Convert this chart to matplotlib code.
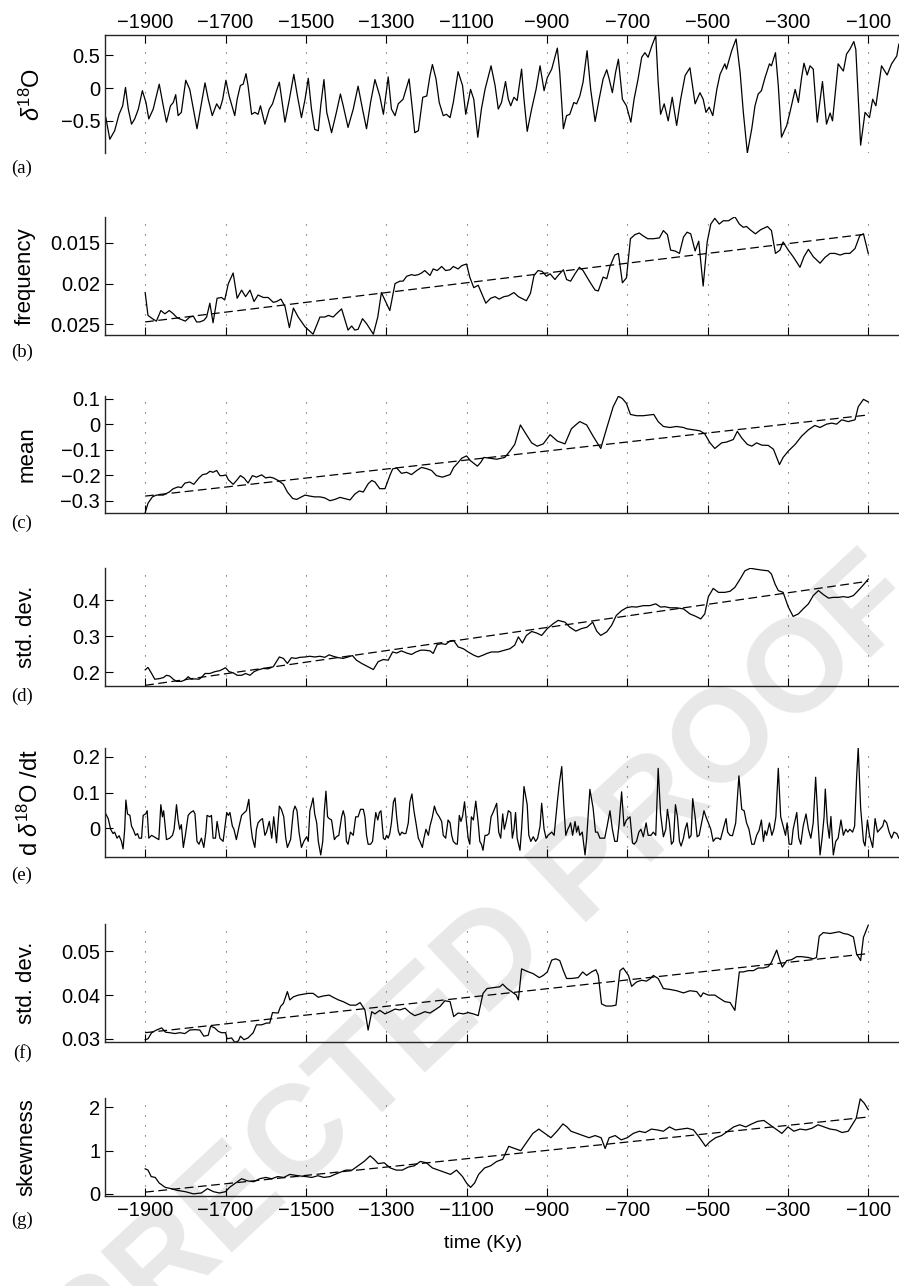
import matplotlib.pyplot as plt

plt.rcParams['font.family'] = 'Liberation Sans'
plt.rcParams['mathtext.fontset'] = 'custom'
plt.rcParams['mathtext.rm'] = 'Liberation Sans'
plt.rcParams['mathtext.it'] = 'Liberation Sans:italic'

# ---------------- data ----------------
xticks = [-1900, -1700, -1500, -1300, -1100, -900, -700, -500, -300, -100]
trend_t = [-1900, -100]

# (a) d18O record
a_t = [-1998, -1988, -1976, -1965, -1956, -1949, -1942, -1934, -1926, -1917,
       -1907, -1898, -1891, -1880, -1865, -1855, -1847, -1837, -1830, -1824,
       -1818, -1810, -1799, -1789, -1780, -1771, -1761, -1751, -1743, -1733,
       -1722, -1714, -1707, -1699, -1691, -1677, -1671, -1663, -1656, -1649,
       -1644, -1635, -1627, -1619, -1613, -1602, -1591, -1583, -1573, -1566,
       -1560, -1552, -1541, -1530, -1521, -1511, -1502, -1494, -1486, -1478,
       -1469, -1463, -1455, -1448, -1436, -1424, -1414, -1407, -1395, -1382,
       -1370, -1359, -1349, -1339, -1328, -1316, -1307, -1295, -1287, -1278,
       -1270, -1258, -1243, -1234, -1229, -1220, -1209, -1199, -1191, -1185,
       -1176, -1168, -1158, -1150, -1141,
       -1133, -1121, -1110, -1102, -1090, -1082, -1072, -1063, -1054, -1039,
       -1029, -1021, -1013, -1003, -996, -990, -982, -974, -963, -957,
       -949, -938, -927, -917, -907, -899, -888, -874, -868, -859,
       -851, -843, -833, -826, -818, -810, -800, -791, -780, -770,
       -760, -751, -745, -737, -729, -722, -712, -702, -691, -683,
       -673, -664, -656, -648, -639, -629, -623, -617, -608, -598,
       -588, -577, -567, -556, -544, -531, -519, -511, -504, -496,
       -487, -477, -469, -457, -453, -440, -429, -419, -411, -401,
       -390, -382, -374, -366, -357, -346, -341, -331, -324, -316,
       -303, -295, -282, -274, -266, -260, -252, -245, -237, -227,
       -214, -204, -195, -189, -175, -162, -154, -146, -136, -131,
       -119, -108, -97, -89, -81, -67, -53, -42, -29, -24]
a_v = [-0.45, -0.78, -0.65, -0.40, -0.27, 0.01, -0.32, -0.55, -0.47, -0.32,
       -0.04, -0.22, -0.47, -0.32, 0.06, -0.27, -0.52, -0.27, -0.22, -0.10,
       -0.42, -0.37, 0.12, -0.02, -0.32, -0.62, -0.27, 0.08, -0.17, -0.42,
       -0.24, -0.32, -0.17, 0.12, -0.12, -0.42, -0.17, 0.04, 0.06, 0.22,
       0.04, -0.40, -0.37, -0.40, -0.27, -0.55, -0.32, -0.24, -0.04, 0.09,
       -0.17, -0.52, -0.17, 0.21, -0.12, -0.45, -0.17, 0.15, -0.32, -0.63,
       -0.65, -0.27, 0.13, -0.37, -0.68, -0.37, -0.09, -0.27, -0.60, -0.32,
       0.03, -0.32, -0.62, -0.22, 0.13, -0.12, -0.40, 0.17, -0.32, -0.42,
       -0.24, -0.17, 0.14, -0.37, -0.68, -0.65, -0.14, -0.12, 0.19, 0.36,
       0.14, -0.22, -0.42, -0.40, -0.45,
       -0.22, 0.25, 0.04, -0.40, -0.02, -0.17, -0.75, -0.32, -0.02, 0.34,
       0.04, -0.32, -0.22, 0.10, -0.17, -0.27, -0.14, -0.19, 0.29, -0.17,
       -0.66, -0.32, -0.02, 0.34, -0.04, 0.16, 0.29, 0.61, 0.24, -0.62,
       -0.42, -0.40, -0.22, -0.24, -0.12, 0.09, 0.57, -0.02, -0.51, -0.17,
       0.14, 0.28, 0.14, -0.07, 0.24, 0.44, -0.17, -0.27, -0.52, -0.17,
       0.14, 0.47, 0.54, 0.47, 0.64, 0.80, 0.09, -0.40, -0.24, -0.50,
       -0.14, -0.57, -0.17, 0.19, 0.31, -0.24, -0.07, -0.17, -0.37, -0.29,
       -0.42, -0.02, 0.21, 0.37, 0.29, 0.57, 0.75, 0.24, -0.37, -0.99,
       -0.62, -0.27, -0.09, -0.04, 0.16, 0.37, 0.34, 0.54, 0.04, -0.75,
       -0.57, -0.37, -0.02, -0.22, 0.16, 0.38, 0.20, 0.34, 0.29, -0.52,
       0.10, -0.55, -0.38, -0.50, 0.37, 0.26, 0.52, 0.59, 0.71, 0.59,
       -0.87, -0.37, -0.45, -0.17, -0.27, 0.34, 0.20, 0.37, 0.49, 0.67]

# (b) frequency
b_t = [-1900, -1893, -1882, -1872, -1861, -1851, -1840, -1830, -1820, -1810,
       -1800, -1789, -1780, -1772, -1764, -1754, -1747, -1739, -1731, -1721,
       -1710, -1702, -1693, -1681, -1671, -1660, -1650, -1639, -1629, -1619,
       -1606, -1594, -1581, -1573, -1562, -1552, -1541, -1531, -1519, -1502,
       -1482, -1465, -1453, -1444, -1432, -1424, -1411, -1395, -1386, -1378,
       -1370, -1359, -1349, -1332, -1321, -1312, -1291, -1278, -1266, -1258,
       -1249, -1237, -1229, -1220, -1212, -1204, -1191, -1183, -1173, -1162,
       -1152, -1141,
       -1133, -1121, -1112, -1100, -1092, -1082, -1071, -1052, -1040, -1029,
       -1019, -1007, -996, -982, -971, -951, -941, -932, -922, -912,
       -901, -892, -880, -872, -859, -851, -841, -830, -819, -810,
       -793, -780, -772, -760, -751, -743, -731, -722, -712, -702,
       -692, -681, -670, -662, -649, -635, -620, -610, -600, -592,
       -581, -570, -560, -551, -542, -531, -522, -511, -501, -492,
       -482, -471, -461, -448, -432, -421, -411, -403, -394, -381,
       -368, -351, -341, -331, -320, -312, -299, -287, -270, -260,
       -249, -237, -220, -208, -195, -183, -170, -158, -146, -133,
       -121, -112, -100]
b_v = [0.0211, 0.0239, 0.0243, 0.0246, 0.0233, 0.0237, 0.0233, 0.0237, 0.0242, 0.0244,
       0.0246, 0.0241, 0.0240, 0.0247, 0.0247, 0.0245, 0.0241, 0.0224, 0.0248, 0.0218,
       0.0217, 0.0220, 0.0200, 0.0187, 0.0218, 0.0208, 0.0216, 0.0208, 0.0222, 0.0214,
       0.0217, 0.0217, 0.0223, 0.0222, 0.0219, 0.0228, 0.0254, 0.0230, 0.0241, 0.0253,
       0.0262, 0.0241, 0.0241, 0.0239, 0.0241, 0.0237, 0.0231, 0.0257, 0.0252, 0.0257,
       0.0256, 0.0243, 0.0249, 0.0262, 0.0241, 0.0211, 0.0233, 0.0200, 0.0197, 0.0197,
       0.0191, 0.0189, 0.0190, 0.0189, 0.0187, 0.0184, 0.0190, 0.0182, 0.0184, 0.0179,
       0.0184, 0.0183,
       0.0179, 0.0182, 0.0178, 0.0176, 0.0192, 0.0205, 0.0202, 0.0224, 0.0218, 0.0216,
       0.0219, 0.0216, 0.0215, 0.0211, 0.0216, 0.0221, 0.0212, 0.0190, 0.0184, 0.0185,
       0.0191, 0.0188, 0.0195, 0.0190, 0.0183, 0.0195, 0.0197, 0.0188, 0.0180, 0.0184,
       0.0198, 0.0208, 0.0209, 0.0192, 0.0194, 0.0179, 0.0165, 0.0163, 0.0199, 0.0193,
       0.0145, 0.0140, 0.0138, 0.0141, 0.0145, 0.0145, 0.0144, 0.0135, 0.0140, 0.0159,
       0.0160, 0.0163, 0.0143, 0.0137, 0.0139, 0.0160, 0.0148, 0.0203, 0.0149, 0.0127,
       0.0120, 0.0127, 0.0123, 0.0123, 0.0118, 0.0127, 0.0131, 0.0130, 0.0134, 0.0139,
       0.0134, 0.0130, 0.0135, 0.0163, 0.0159, 0.0149, 0.0159, 0.0167, 0.0180, 0.0167,
       0.0158, 0.0167, 0.0175, 0.0168, 0.0163, 0.0163, 0.0165, 0.0163, 0.0163, 0.0157,
       0.0141, 0.0139, 0.0163]
b_trend = [0.0247, 0.0139]

# (c) mean
c_t = [-1900, -1893, -1882, -1872, -1855, -1840, -1830, -1818, -1810, -1801,
       -1789, -1779, -1766, -1757, -1747, -1739, -1731, -1722, -1714, -1706,
       -1699, -1693, -1681, -1671, -1663, -1654, -1644, -1633, -1623, -1610,
       -1600, -1590, -1581, -1569, -1556, -1546, -1533, -1523, -1513, -1502,
       -1490, -1478, -1465, -1453, -1440, -1428, -1415, -1403, -1390, -1378,
       -1367, -1357, -1345, -1336, -1328, -1316, -1303, -1291, -1284, -1274,
       -1262, -1249, -1237, -1224, -1212, -1199, -1187, -1175, -1160, -1141,
       -1132, -1121, -1112, -1100, -1090, -1073, -1065, -1057, -1042, -1025,
       -1005, -992, -980, -966, -955, -938, -924, -909, -892, -874,
       -855, -839, -826, -818, -801, -785, -766, -751, -735, -722,
       -712, -702, -692, -677, -660, -644, -634, -623, -610, -594,
       -577, -560, -552, -536, -519, -507, -494, -482, -465, -453,
       -436, -426, -415, -401, -390, -378, -365, -349, -336, -321,
       -312, -299, -282, -266, -249, -233, -220, -204, -191, -179,
       -166, -150, -133, -125, -112, -100]
c_v = [-0.346, -0.309, -0.284, -0.277, -0.277, -0.265, -0.252, -0.245, -0.248, -0.230,
       -0.226, -0.235, -0.210, -0.197, -0.194, -0.184, -0.188, -0.181, -0.201, -0.201,
       -0.198, -0.217, -0.235, -0.217, -0.201, -0.210, -0.230, -0.201, -0.207, -0.198,
       -0.210, -0.207, -0.210, -0.220, -0.235, -0.265, -0.290, -0.294, -0.286, -0.277,
       -0.281, -0.284, -0.284, -0.288, -0.299, -0.294, -0.286, -0.291, -0.296, -0.273,
       -0.261, -0.265, -0.233, -0.220, -0.226, -0.252, -0.252, -0.201, -0.175, -0.171,
       -0.192, -0.188, -0.197, -0.181, -0.169, -0.174, -0.181, -0.201, -0.207, -0.197,
       -0.169, -0.150, -0.133, -0.124, -0.143, -0.164, -0.150, -0.130, -0.133, -0.137,
       -0.130, -0.105, -0.079, -0.003, -0.031, -0.073, -0.086, -0.077, -0.041, -0.066,
       -0.077, -0.018, 0.000, 0.010, -0.003, -0.047, -0.095, -0.015, 0.068, 0.109,
       0.100, 0.081, 0.038, 0.033, 0.033, 0.036, 0.038, 0.010, -0.009, -0.013,
       -0.009, -0.013, -0.018, -0.022, -0.026, -0.038, -0.073, -0.095, -0.073, -0.070,
       -0.060, -0.028, -0.054, -0.079, -0.086, -0.073, -0.082, -0.083, -0.098, -0.158,
       -0.130, -0.105, -0.079, -0.047, -0.022, -0.005, -0.013, 0.000, 0.004, 0.000,
       0.017, 0.010, 0.017, 0.068, 0.097, 0.087]
c_trend = [-0.281, 0.036]

# (d) standard deviation
d_t = [-1900, -1893, -1884, -1876, -1863, -1854, -1847, -1839, -1830, -1822,
       -1810, -1801, -1793, -1785, -1776, -1766, -1760, -1751, -1739, -1727,
       -1714, -1700, -1691, -1681, -1671, -1660, -1650, -1639, -1629, -1619,
       -1606, -1594, -1581, -1566, -1556, -1546, -1536, -1525, -1515, -1502,
       -1490, -1478, -1465, -1453, -1442, -1432, -1419, -1407, -1395, -1384,
       -1374, -1361, -1349, -1332, -1320, -1307, -1295, -1284, -1274, -1262,
       -1249, -1237, -1226, -1214, -1204, -1191, -1183, -1173, -1162, -1152,
       -1141,
       -1132, -1121, -1108, -1096, -1082, -1071, -1059, -1049, -1038, -1021,
       -1005, -992, -980, -971, -961, -951, -938, -926, -913, -899,
       -884, -872, -855, -843, -828, -814, -800, -786, -776, -766,
       -751, -739, -727, -714, -702, -689, -677, -660, -644, -629,
       -617, -606, -594, -577, -560, -544, -529, -517, -507, -498,
       -486, -473, -457, -444, -432, -419, -407, -394, -382, -365,
       -349, -341, -332, -324, -312, -299, -287, -274, -262, -249,
       -237, -224, -212, -199, -187, -175, -162, -150, -137, -125,
       -112, -100]
d_v = [0.206, 0.213, 0.196, 0.180, 0.182, 0.185, 0.191, 0.189, 0.180, 0.174,
       0.174, 0.178, 0.187, 0.180, 0.181, 0.180, 0.185, 0.196, 0.196, 0.201,
       0.204, 0.212, 0.201, 0.198, 0.191, 0.191, 0.196, 0.191, 0.201, 0.206,
       0.210, 0.209, 0.215, 0.242, 0.238, 0.224, 0.240, 0.238, 0.241, 0.242,
       0.244, 0.242, 0.244, 0.241, 0.248, 0.244, 0.240, 0.238, 0.242, 0.246,
       0.233, 0.224, 0.217, 0.207, 0.229, 0.235, 0.233, 0.256, 0.253, 0.259,
       0.253, 0.249, 0.256, 0.261, 0.261, 0.259, 0.252, 0.277, 0.279, 0.277,
       0.287,
       0.288, 0.270, 0.265, 0.256, 0.247, 0.242, 0.247, 0.252, 0.256, 0.256,
       0.261, 0.265, 0.275, 0.298, 0.281, 0.302, 0.313, 0.309, 0.302, 0.321,
       0.335, 0.344, 0.339, 0.325, 0.314, 0.321, 0.325, 0.339, 0.314, 0.302,
       0.312, 0.330, 0.358, 0.371, 0.379, 0.382, 0.381, 0.385, 0.385, 0.390,
       0.381, 0.382, 0.379, 0.379, 0.376, 0.362, 0.355, 0.348, 0.362, 0.410,
       0.433, 0.422, 0.422, 0.425, 0.436, 0.459, 0.482, 0.489, 0.487, 0.484,
       0.482, 0.473, 0.445, 0.427, 0.422, 0.381, 0.355, 0.362, 0.376, 0.390,
       0.413, 0.427, 0.416, 0.406, 0.408, 0.408, 0.410, 0.408, 0.413, 0.427,
       0.443, 0.459]
d_trend = [0.163, 0.453]

# (e) derivative of d18O
e_t = [-1998, -1992, -1986, -1980, -1976, -1970, -1965, -1959, -1955, -1951,
       -1948, -1944, -1938, -1934, -1930, -1924, -1919, -1915, -1909, -1905,
       -1899, -1895, -1891, -1884, -1878, -1872, -1866, -1861, -1857, -1854,
       -1847, -1839, -1832, -1828, -1822, -1818, -1814, -1810, -1805, -1800,
       -1793, -1787, -1780, -1776, -1771, -1766, -1760, -1754, -1749, -1746,
       -1739, -1735, -1731, -1725, -1721, -1714, -1706, -1697, -1693, -1689,
       -1683, -1679, -1673, -1666, -1660, -1653, -1648, -1642, -1637, -1633,
       -1627, -1623, -1619, -1613, -1608, -1602, -1598, -1591, -1585, -1580,
       -1573, -1566, -1561, -1555, -1550, -1546, -1538, -1531, -1527, -1522,
       -1517, -1511, -1505, -1498, -1494, -1490, -1486, -1482, -1478, -1473,
       -1469, -1463, -1458, -1454, -1450, -1446, -1442, -1436, -1429, -1424,
       -1418, -1411, -1407, -1403, -1399, -1395, -1389, -1382, -1376, -1370,
       -1364, -1357, -1353, -1349, -1345, -1339, -1334, -1330, -1326, -1321,
       -1317, -1313, -1307, -1303, -1299, -1295, -1291, -1287, -1282, -1278,
       -1274, -1270, -1266, -1261, -1256, -1251, -1245, -1241, -1236, -1231,
       -1226, -1220, -1216, -1210, -1206, -1201, -1195, -1191, -1185, -1180,
       -1175, -1168, -1162, -1158, -1152, -1146, -1141,
       -1137, -1133, -1127, -1123, -1118, -1114, -1110, -1105, -1100, -1096,
       -1092, -1088, -1083, -1077, -1071, -1067, -1063, -1059, -1054, -1049,
       -1044, -1039, -1034, -1025, -1020, -1015, -1010, -1006, -1002, -996,
       -990, -986, -982, -978, -974, -967, -963, -957, -949, -945,
       -940, -934, -928, -923, -917, -913, -907, -902, -897, -888,
       -882, -874, -869, -863, -858, -853, -848, -844, -841, -836,
       -830, -826, -822, -818, -812, -805, -801, -793, -785, -779,
       -774, -768, -761, -756, -750, -743, -737, -731, -725, -720,
       -714, -708, -702, -693, -687, -683, -677, -671, -666, -660,
       -653, -648, -641, -635, -629, -623, -617, -610, -604, -600,
       -595, -590, -585, -580, -575, -570, -566, -560, -556, -551,
       -546, -541, -537, -531, -526, -521, -515, -509, -504, -498,
       -492, -486, -480, -473, -468, -461, -454, -450, -444, -438,
       -434, -430, -422, -415, -409, -403, -397, -390, -384, -378,
       -372, -366, -361, -357, -353, -346, -340, -335, -330, -324,
       -318, -312, -306, -302, -297, -291, -287, -278, -273, -268,
       -262, -255, -249, -243, -237, -231, -225, -220, -215, -210,
       -207, -202, -197, -193, -187, -181, -175, -168, -162, -156,
       -151, -146, -139, -134, -129, -125, -119, -112, -108, -102,
       -97, -93, -89, -83, -77, -71, -64, -60, -54, -48,
       -42, -36, -29, -24]
e_v = [0.040, 0.027, -0.003, -0.015, -0.011, -0.028, -0.021, -0.037, -0.058, -0.003,
       0.079, 0.040, 0.036, 0.006, -0.003, -0.020, -0.015, -0.028, -0.028, 0.036,
       0.040, 0.049, -0.028, -0.020, -0.024, -0.028, -0.032, 0.066, 0.032, 0.049,
       -0.032, -0.028, -0.020, -0.003, 0.066, 0.023, -0.003, 0.010, -0.054, -0.020,
       0.036, 0.044, 0.049, 0.040, -0.037, -0.045, -0.028, -0.054, -0.011, 0.036,
       0.032, 0.036, -0.028, -0.028, 0.019, -0.028, -0.037, 0.044, 0.036, 0.044,
       0.006, -0.003, -0.032, 0.006, 0.036, 0.044, 0.049, 0.081, 0.006, -0.028,
       -0.054, -0.003, 0.015, 0.023, 0.027, -0.020, -0.011, 0.019, -0.028, 0.032,
       -0.041, 0.062, 0.053, 0.032, -0.028, -0.054, -0.032, 0.049, 0.062, 0.049,
       -0.011, -0.054, -0.037, -0.024, -0.037, 0.049, 0.066, 0.085, 0.040, 0.015,
       -0.037, -0.075, -0.037, 0.049, 0.104, 0.032, 0.027, 0.023, -0.032, -0.024,
       -0.020, 0.032, 0.049, 0.032, -0.037, -0.045, -0.011, -0.020, 0.032, 0.032,
       0.053, 0.053, 0.032, -0.020, -0.045, -0.045, -0.037, 0.006, 0.044, 0.023,
       0.044, 0.049, -0.028, -0.032, -0.020, -0.028, -0.015, 0.015, 0.074, 0.085,
       0.032, -0.007, -0.020, -0.011, -0.015, -0.015, 0.015, 0.074, 0.096, 0.049,
       0.015, -0.028, -0.037, -0.054, -0.028, -0.003, -0.020, 0.006, 0.032, 0.062,
       0.044, 0.032, 0.019, -0.020, -0.028, 0.023, 0.015,
       -0.020, -0.037, -0.044, -0.045, 0.036, 0.019, 0.033, 0.074, 0.015, -0.028,
       -0.045, 0.032, 0.023, 0.076, 0.015, -0.037, -0.045, -0.062, -0.020, -0.020,
       -0.015, 0.032, 0.044, 0.070, -0.011, -0.028, 0.040, -0.003, 0.015, 0.049,
       0.044, -0.028, -0.003, 0.044, -0.028, -0.062, -0.003, 0.117, 0.066, -0.020,
       -0.037, -0.024, -0.037, -0.028, 0.006, 0.070, -0.003, -0.028, -0.020, -0.011,
       -0.020, 0.074, 0.126, 0.173, 0.066, -0.020, -0.003, 0.006, 0.015, -0.020,
       0.019, -0.011, 0.006, -0.020, -0.011, -0.075, -0.028, 0.109, 0.057, -0.011,
       -0.011, -0.028, -0.028, -0.028, 0.006, 0.049, -0.003, -0.037, -0.037, 0.015,
       0.102, 0.006, 0.023, 0.032, -0.041, -0.045, -0.037, -0.011, -0.003, -0.024,
       0.015, -0.020, -0.020, -0.011, -0.020, 0.168, 0.040, -0.024, -0.003, 0.053,
       0.015, -0.045, -0.037, 0.066, 0.032, -0.037, -0.050, -0.028, -0.003, 0.015,
       -0.028, -0.020, 0.083, 0.032, -0.024, -0.020, 0.015, 0.049, 0.032, 0.015,
       -0.003, -0.037, -0.028, -0.028, -0.032, -0.003, 0.027, -0.011, -0.020, -0.021,
       -0.003, 0.015, 0.147, 0.053, 0.049, 0.015, -0.003, -0.045, -0.045, -0.020,
       -0.007, 0.023, -0.037, -0.007, -0.020, 0.015, -0.020, -0.003, 0.032, 0.168,
       0.032, 0.006, -0.020, 0.015, -0.045, -0.045, -0.003, 0.044, -0.028, -0.045,
       0.006, 0.040, -0.003, -0.028, 0.015, 0.143, 0.015, -0.075, -0.028, 0.032,
       0.110, 0.015, -0.028, 0.033, -0.075, -0.037, -0.028, 0.023, -0.020, -0.003,
       -0.011, -0.003, -0.011, 0.006, 0.143, 0.226, 0.057, -0.037, -0.050, 0.023,
       -0.020, -0.037, -0.054, 0.027, -0.011, -0.003, 0.006, 0.023, 0.015, -0.011,
       -0.028, -0.011, -0.015, -0.028]

# (f) standard deviation of the derivative
f_t = [-1900, -1893, -1884, -1872, -1859, -1849, -1839, -1826, -1814, -1801,
       -1789, -1776, -1764, -1754, -1743, -1737, -1727, -1718, -1710, -1700,
       -1696, -1685, -1677, -1668, -1663, -1654, -1644, -1631, -1623, -1610,
       -1598, -1590, -1583, -1569, -1563, -1556, -1546, -1540, -1531, -1519,
       -1507, -1494, -1482, -1469, -1457, -1442, -1432, -1419, -1407, -1390,
       -1375, -1365, -1353, -1345, -1336, -1328, -1316, -1303, -1291, -1278,
       -1266, -1253, -1241, -1229, -1216, -1204, -1191, -1179, -1166, -1154,
       -1141,
       -1132, -1121, -1108, -1096, -1083, -1071, -1059, -1049, -1034, -1017,
       -1010, -999, -988, -976, -971, -963, -951, -934, -919, -909,
       -899, -888, -878, -868, -859, -851, -839, -822, -811, -801,
       -789, -778, -772, -764, -753, -739, -728, -718, -710, -697,
       -689, -677, -664, -652, -642, -635, -623, -610, -594, -577,
       -560, -544, -527, -517, -511, -498, -482, -469, -457, -444,
       -432, -421, -411, -399, -386, -374, -361, -349, -341, -328,
       -320, -314, -303, -291, -278, -266, -249, -237, -229, -222,
       -212, -195, -183, -172, -162, -150, -137, -129, -119, -112,
       -100]
f_v = [0.0298, 0.0300, 0.0314, 0.0320, 0.0325, 0.0315, 0.0314, 0.0312, 0.0314, 0.0312,
       0.0320, 0.0321, 0.0320, 0.0306, 0.0308, 0.0329, 0.0325, 0.0317, 0.0314, 0.0314,
       0.0300, 0.0302, 0.0292, 0.0295, 0.0306, 0.0298, 0.0302, 0.0314, 0.0332, 0.0332,
       0.0336, 0.0336, 0.0360, 0.0359, 0.0374, 0.0381, 0.0408, 0.0389, 0.0396, 0.0400,
       0.0402, 0.0404, 0.0404, 0.0395, 0.0398, 0.0400, 0.0395, 0.0389, 0.0385, 0.0377,
       0.0377, 0.0383, 0.0366, 0.0320, 0.0362, 0.0357, 0.0365, 0.0357, 0.0362, 0.0368,
       0.0366, 0.0370, 0.0360, 0.0353, 0.0357, 0.0362, 0.0359, 0.0366, 0.0374, 0.0387,
       0.0385,
       0.0351, 0.0359, 0.0357, 0.0360, 0.0357, 0.0353, 0.0404, 0.0415, 0.0417, 0.0419,
       0.0425, 0.0415, 0.0408, 0.0400, 0.0389, 0.0460, 0.0455, 0.0449, 0.0440, 0.0445,
       0.0453, 0.0480, 0.0483, 0.0479, 0.0456, 0.0438, 0.0438, 0.0440, 0.0453, 0.0445,
       0.0453, 0.0458, 0.0445, 0.0380, 0.0375, 0.0375, 0.0377, 0.0456, 0.0462, 0.0445,
       0.0420, 0.0430, 0.0434, 0.0432, 0.0438, 0.0445, 0.0438, 0.0415, 0.0413, 0.0410,
       0.0405, 0.0410, 0.0408, 0.0396, 0.0405, 0.0400, 0.0400, 0.0392, 0.0385, 0.0383,
       0.0365, 0.0453, 0.0453, 0.0456, 0.0456, 0.0462, 0.0462, 0.0465, 0.0475, 0.0503,
       0.0479, 0.0464, 0.0479, 0.0481, 0.0488, 0.0488, 0.0486, 0.0483, 0.0486, 0.0535,
       0.0543, 0.0541, 0.0543, 0.0545, 0.0541, 0.0539, 0.0533, 0.0494, 0.0479, 0.0532,
       0.0560]
f_trend = [0.0314, 0.0495]

# (g) skewness
g_t = [-1900, -1893, -1885, -1875, -1865, -1850, -1835, -1820, -1800, -1780,
       -1760, -1745, -1730, -1715, -1700, -1690, -1675, -1660, -1645, -1630,
       -1615, -1600, -1585, -1570, -1555, -1540, -1520, -1500, -1485, -1470,
       -1455, -1440, -1420, -1400, -1385, -1370, -1355, -1340, -1330, -1320,
       -1305, -1290, -1275, -1260, -1245, -1230, -1215, -1200, -1185, -1170,
       -1155, -1140, -1125, -1110, -1100, -1090, -1080, -1070, -1055, -1040,
       -1025, -1010, -995, -980, -965, -950, -935, -920, -905, -890,
       -875, -860, -850, -840, -825, -810, -795, -780, -765, -755,
       -745, -730, -715, -700, -685, -670, -655, -640, -625, -610,
       -595, -580, -565, -550, -535, -520, -505, -495, -480, -465,
       -450, -435, -420, -405, -390, -375, -360, -345, -330, -315,
       -300, -285, -270, -255, -240, -225, -210, -195, -180, -165,
       -150, -140, -130, -120, -110, -100]
g_v = [0.58, 0.55, 0.40, 0.38, 0.25, 0.15, 0.12, 0.08, 0.05, 0.00,
       0.02, 0.12, 0.05, 0.02, 0.05, 0.15, 0.25, 0.35, 0.30, 0.28,
       0.35, 0.38, 0.35, 0.40, 0.38, 0.45, 0.42, 0.40, 0.38, 0.42,
       0.38, 0.40, 0.48, 0.55, 0.55, 0.65, 0.75, 0.88, 0.80, 0.70,
       0.72, 0.60, 0.55, 0.55, 0.62, 0.65, 0.75, 0.72, 0.60, 0.55,
       0.50, 0.45, 0.55, 0.40, 0.25, 0.15, 0.25, 0.45, 0.60, 0.65,
       0.75, 0.80, 1.10, 1.05, 1.00, 1.20, 1.40, 1.50, 1.40, 1.30,
       1.45, 1.62, 1.55, 1.45, 1.40, 1.35, 1.30, 1.35, 1.30, 1.05,
       1.30, 1.35, 1.25, 1.30, 1.40, 1.45, 1.42, 1.50, 1.48, 1.45,
       1.55, 1.48, 1.50, 1.52, 1.48, 1.30, 1.10, 1.20, 1.30, 1.35,
       1.45, 1.55, 1.60, 1.55, 1.62, 1.68, 1.70, 1.60, 1.50, 1.40,
       1.55, 1.45, 1.50, 1.48, 1.52, 1.60, 1.55, 1.50, 1.48, 1.42,
       1.45, 1.60, 1.75, 2.20, 2.10, 1.95]
g_trend = [0.04, 1.78]

# ---------------- figure ----------------
W, H = 899, 1286
fig = plt.figure(figsize=(W / 100, H / 100), dpi=100)

DOT = (0, (1, 8))
DASH = (0, (7, 3.6))
TICK_LABELS = ['\u2212%d' % abs(x) for x in xticks]


def px_axes(top, bottom):
    return fig.add_axes([105 / W, 1 - bottom / H, (W - 105) / W, (bottom - top) / H])


def setup(ax, ylim, yticks, ylabels, where='bottom'):
    ax.set_xlim(-2000, -23.5)
    ax.set_ylim(*ylim)
    ax.patch.set_visible(False)
    for x in xticks:
        ax.axvline(x, color='0.3', lw=0.8, ls=DOT, zorder=0)
    ax.set_xticks(xticks)
    ax.set_yticks(yticks)
    ax.set_yticklabels(ylabels)
    ax.spines['right'].set_visible(False)
    for s in ax.spines.values():
        s.set_linewidth(1.0)
        s.set_color('0.15')
    ax.tick_params(axis='y', direction='in', length=5.8, width=0.8,
                   labelsize=14.5, pad=3.5, right=False)
    if where == 'top':
        ax.spines['bottom'].set_visible(False)
        ax.xaxis.tick_top()
        ax.set_xticklabels(TICK_LABELS)
        ax.tick_params(axis='x', direction='in', length=5.8, width=0.8,
                       labelsize=14.5, pad=2.5, top=True, bottom=False,
                       labeltop=True, labelbottom=False)
    else:
        ax.spines['top'].set_visible(False)
        ax.set_xticklabels(TICK_LABELS)
        ax.tick_params(axis='x', direction='in', length=5.8, width=0.8,
                       labelsize=14.5, pad=3.6, top=False,
                       labelbottom=(where == 'labels'))


def ylab(x, top, bottom, text, size=16):
    fig.text(x / W, 1 - (top + bottom) / 2 / H, text, rotation=90,
             ha='center', va='center', fontsize=size)


def plabel(y, text):
    fig.text(22 / W, 1 - y / H, text, ha='center', va='center',
             fontsize=13.5, family='Liberation Serif')


# watermark (cut by the page edge, as in the proof)
fig.text(339 / W, 1 - 1105 / H, 'UNCORRECTED PROOF', rotation=43,
         rotation_mode='anchor', ha='center', va='center', fontsize=95,
         fontweight='bold', color='#e8e8e8', zorder=-1)

line_kw = dict(color='k', lw=0.9)
trend_kw = dict(color='k', lw=0.9, ls=DASH)

# (a)
ax = px_axes(35, 153)
ax.plot(a_t, a_v, **line_kw)
setup(ax, (-0.99, 0.81), [-0.5, 0, 0.5], ['\u22120.5', '0', '0.5'], where='top')
ylab(32, 35, 153, r'$\delta^{18}$O', 17)
plabel(168, '(a)')

# (b)
ax = px_axes(216.7, 335)
ax.plot(b_t, b_v, **line_kw)
ax.plot(trend_t, b_trend, **trend_kw)
setup(ax, (0.0263, 0.0118), [0.015, 0.02, 0.025], ['0.015', '0.02', '0.025'])
ylab(25, 216.7, 335, 'frequency', 16)
plabel(352, '(b)')

# (c)
ax = px_axes(396, 513)
ax.plot(c_t, c_v, **line_kw)
ax.plot(trend_t, c_trend, **trend_kw)
setup(ax, (-0.347, 0.11), [-0.3, -0.2, -0.1, 0, 0.1],
      ['\u22120.3', '\u22120.2', '\u22120.1', '0', '0.1'])
ylab(27, 396, 513, 'mean', 16)
plabel(523, '(c)')

# (d)
ax = px_axes(568.3, 685.7)
ax.plot(d_t, d_v, **line_kw)
ax.plot(trend_t, d_trend, **trend_kw)
setup(ax, (0.162, 0.489), [0.2, 0.3, 0.4], ['0.2', '0.3', '0.4'])
ylab(27, 568.3, 685.7, 'std. dev.', 16)
plabel(696, '(d)')

# (e)
ax = px_axes(747.7, 856.7)
ax.plot(e_t, e_v, **line_kw)
setup(ax, (-0.08, 0.226), [0, 0.1, 0.2], ['0', '0.1', '0.2'])
ylab(30, 747.7, 856.7, r'd $\delta^{18}$O /dt', 17)
plabel(875, '(e)')

# (f)
ax = px_axes(924.3, 1042.3)
ax.plot(f_t, f_v, **line_kw)
ax.plot(trend_t, f_trend, **trend_kw)
setup(ax, (0.0292, 0.0562), [0.03, 0.04, 0.05], ['0.03', '0.04', '0.05'])
ylab(27, 924.3, 1042.3, 'std. dev.', 16)
plabel(1053, '(f)')

# (g)
ax = px_axes(1098, 1196)
ax.plot(g_t, g_v, **line_kw)
ax.plot(trend_t, g_trend, **trend_kw)
setup(ax, (-0.05, 2.22), [0, 1, 2], ['0', '1', '2'], where='labels')
ylab(27, 1098, 1196, 'skewness', 16)
plabel(1220, '(g)')
fig.text(483 / W, 1 - 1243 / H, 'time (Ky)', ha='center', va='center', fontsize=14)

fig.savefig('out.png', dpi=100)
